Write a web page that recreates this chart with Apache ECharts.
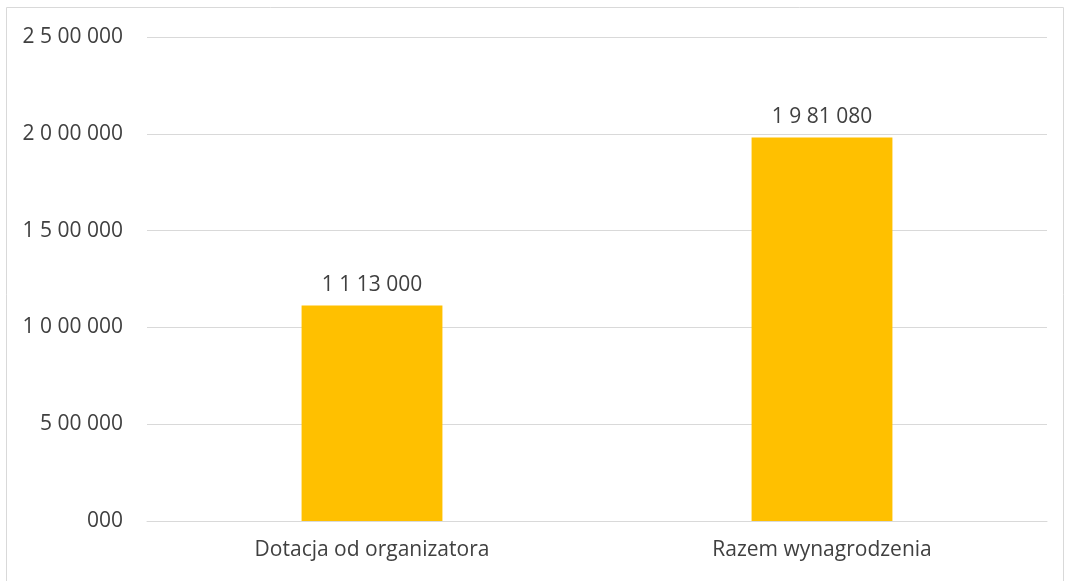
<!DOCTYPE html>
<html>
<head>
<meta charset="utf-8">
<script src="https://cdn.jsdelivr.net/npm/echarts@6/dist/echarts.min.js"></script>
<style>
  html, body { margin: 0; padding: 0; background: #fff; }
  #chart { width: 1065px; height: 581px; }
</style>
</head>
<body>
<div id="chart"></div>
<script>
// dane
const categories = ['Dotacja od organizatora', 'Razem wynagrodzenia'];
const values = [1113000, 1981080];
const yMin = 0;
const yMax = 2500000;
const yStep = 500000;

// format: ostatnie 3 cyfry, potem 2, potem pojedyncze (jak w oryginale)
function fmt(v) {
  const s = String(Math.round(v)).padStart(3, '0');
  const last3 = s.slice(-3);
  const rest = s.slice(0, -3);
  if (!rest) return last3;
  const next2 = rest.slice(-2);
  const singles = rest.slice(0, -2).split('');
  return singles.concat([next2, last3]).join(' ');
}

const chart = echarts.init(document.getElementById('chart'));
const font = 'Open Sans, Liberation Sans, sans-serif';
chart.setOption({
  animation: false,
  graphic: [{
    type: 'rect',
    shape: { x: 6.5, y: 7.5, width: 1057, height: 620 },
    style: { fill: 'none', stroke: '#d9d9d9', lineWidth: 1 },
    silent: true
  }],
  grid: { left: 147, right: 18, top: 37, bottom: 60 },
  xAxis: {
    type: 'category',
    data: categories,
    axisLine: { lineStyle: { color: '#d9d9d9' } },
    axisTick: { show: false },
    axisLabel: { color: '#404040', fontSize: 21, fontFamily: font, margin: 19 }
  },
  yAxis: {
    type: 'value',
    min: yMin,
    max: yMax,
    interval: yStep,
    axisLine: { show: false },
    axisTick: { show: false },
    splitLine: { lineStyle: { color: '#d9d9d9', width: 1 } },
    axisLabel: { color: '#404040', fontSize: 21, fontFamily: font, margin: 24, formatter: fmt }
  },
  series: [{
    type: 'bar',
    data: values,
    barWidth: '31.3%',
    itemStyle: { color: '#FFC000' },
    label: {
      show: true,
      position: 'top',
      distance: 10,
      color: '#404040',
      fontSize: 21,
      fontFamily: font,
      formatter: p => fmt(p.value)
    }
  }]
});
</script>
</body>
</html>
